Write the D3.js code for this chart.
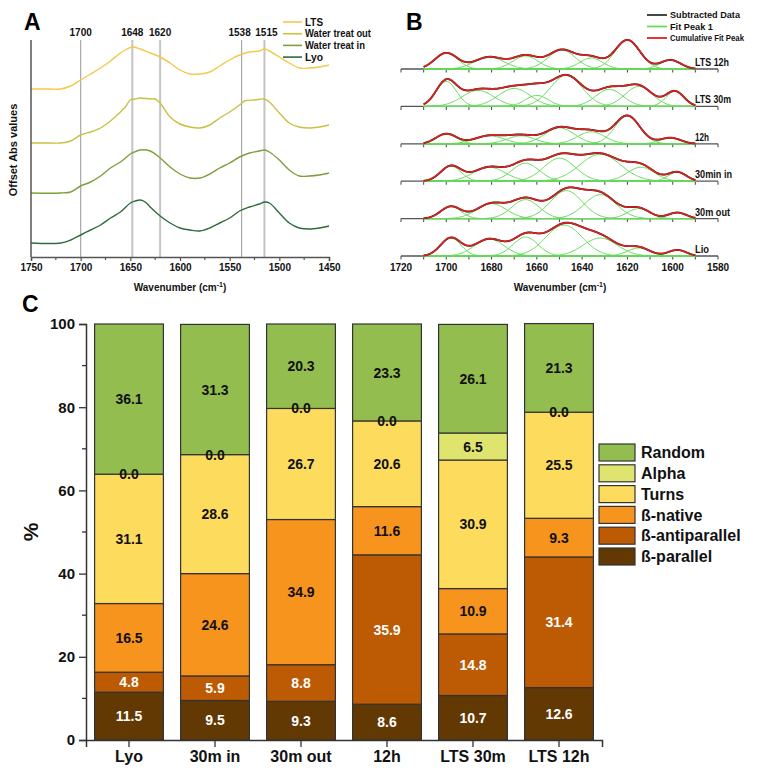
<!DOCTYPE html>
<html><head><meta charset="utf-8">
<script src="https://cdn.jsdelivr.net/npm/d3@7"></script>
<style>
body{margin:0;background:#fff}
svg{display:block;font-family:Arial,"Liberation Sans",sans-serif;font-weight:bold}
</style></head><body>
<svg id="fig" width="759" height="768"></svg>
<script>
// ---------- Panel A: offset FTIR spectra (wavenumber, offset absorbance) ----------
const spectrumLTS = [[1750,1.68],[1740,1.68],[1730,1.68],[1720,1.68],[1710,1.71],[1700,1.77],[1690,1.83],[1680,1.89],[1670,1.96],[1660,2.04],[1655,2.07],[1648,2.10],[1640,2.08],[1630,2.04],[1620,2.00],[1610,1.94],[1600,1.87],[1590,1.83],[1580,1.83],[1570,1.85],[1560,1.91],[1550,1.97],[1540,2.02],[1530,2.05],[1520,2.06],[1515,2.08],[1510,2.06],[1500,2.00],[1490,1.94],[1480,1.89],[1470,1.89],[1460,1.90],[1450,1.92]];
const spectrumWaterOut = [[1750,1.14],[1730,1.14],[1720,1.14],[1710,1.16],[1700,1.22],[1690,1.25],[1680,1.29],[1670,1.36],[1660,1.45],[1655,1.50],[1650,1.57],[1645,1.58],[1640,1.59],[1630,1.58],[1625,1.58],[1620,1.54],[1610,1.40],[1600,1.33],[1590,1.30],[1580,1.29],[1570,1.32],[1560,1.39],[1550,1.45],[1540,1.52],[1535,1.56],[1525,1.57],[1515,1.58],[1510,1.55],[1500,1.44],[1490,1.34],[1480,1.30],[1470,1.29],[1460,1.30],[1450,1.32]];
const spectrumWaterIn = [[1750,0.64],[1720,0.64],[1710,0.65],[1700,0.71],[1690,0.75],[1680,0.81],[1670,0.89],[1660,0.95],[1650,1.03],[1648,1.04],[1640,1.07],[1630,1.06],[1620,0.99],[1610,0.90],[1600,0.83],[1590,0.79],[1580,0.79],[1570,0.83],[1560,0.89],[1550,0.94],[1540,1.00],[1530,1.04],[1520,1.06],[1515,1.07],[1510,1.05],[1500,0.97],[1490,0.87],[1480,0.81],[1470,0.81],[1460,0.82],[1450,0.84]];
const spectrumLyo = [[1750,0.14],[1720,0.14],[1710,0.17],[1700,0.22],[1690,0.27],[1680,0.32],[1670,0.39],[1660,0.45],[1650,0.54],[1645,0.56],[1640,0.57],[1635,0.55],[1630,0.50],[1620,0.41],[1610,0.34],[1600,0.29],[1590,0.27],[1580,0.26],[1570,0.29],[1560,0.34],[1550,0.39],[1540,0.46],[1530,0.50],[1520,0.53],[1515,0.55],[1510,0.54],[1500,0.44],[1490,0.34],[1480,0.29],[1470,0.28],[1460,0.29],[1450,0.31]];
const spectraNames = ["LTS","Water treat out","Water treat in","Lyo"];
const spectraColors = ["#f2c94a","#c9c142","#7d9f3c","#2f6b3b"];
const markerBands = [1700,1648,1620,1538,1515];
const axisATicks = [1750,1700,1650,1600,1550,1500,1450];

// ---------- Panel B: Gaussian band fits of amide I (centre, height, sigma) ----------
const fitRows = ["Lio","30m out","30min in","12h","LTS 30m","LTS 12h"];
const bandsLio = [[1698,18,4.5],[1681,17,6.5],[1665,19,5.5],[1648,31,8],[1632,18,7.5],[1615,8,5],[1598,6,4]];
const bands30mOut = [[1698,12,4.5],[1680,15,6.5],[1665,19,6],[1647,28,7],[1632,24,7],[1615,10,5],[1598,6,4]];
const bands30minIn = [[1698,15,4.5],[1681,14,7],[1665,18,6],[1650,23,7],[1632,27,9],[1614,14,6],[1598,9,4]];
const bands12h = [[1700,10,4.5],[1681,8,6.5],[1667,8,6],[1650,16,6.5],[1636,12,6],[1620,28,5.5],[1601,6,4.5]];
const bandsLTS30m = [[1700,25,4.5],[1686,16,7],[1670,18,7],[1660,11,5],[1647,31,7],[1628,17,6],[1615,20,6],[1599,15,4]];
const bandsLTS12h = [[1700,16,5],[1681,12,6.5],[1665,13,5.5],[1649,19,6],[1636,11,5],[1620,29,5.5],[1601,9,4.5]];
const fitBands = [bandsLio,bands30mOut,bands30minIn,bands12h,bandsLTS30m,bandsLTS12h];
const axisBTicks = [1720,1700,1680,1660,1640,1620,1600,1580];
const fitLegend = ["Subtracted Data","Fit Peak 1","Cumulative Fit Peak"];

// ---------- Panel C: secondary structure composition (%) ----------
const conditions = ["Lyo","30m in","30m out","12h","LTS 30m","LTS 12h"];
const structures = ["ß-parallel","ß-antiparallel","ß-native","Turns","Alpha","Random"];
const betaParallel = [11.5,9.5,9.3,8.6,10.7,12.6];
const betaAntiparallel = [4.8,5.9,8.8,35.9,14.8,31.4];
const betaNative = [16.5,24.6,34.9,11.6,10.9,9.3];
const turns = [31.1,28.6,26.7,20.6,30.9,25.5];
const alpha = [0.0,0.0,0.0,0.0,6.5,0.0];
const random = [36.1,31.3,20.3,23.3,26.1,21.3];
const structureColors = ["#623803","#bd5a04","#f7941e","#fddc5d","#dfe46e","#93bd4e"];
const labelColors = ["#fff","#fff","#111","#111","#111","#111"];
const axisCTicks = [0,20,40,60,80,100];

const svg = d3.select("#fig");
svg.append("rect").attr("width",759).attr("height",768).attr("fill","#fff");
const axisCol = "#555";

// small labels are set in a condensed face: squeeze each run to its set width
function squeeze(sel,widths){
  sel.attr("textLength",(d,i)=>widths[i]).attr("lengthAdjust","spacingAndGlyphs");
}
function panelLetter(t,x,y){
  svg.append("text").attr("x",x).attr("y",y).attr("font-size",23).attr("fill","#000").text(t);
}
function wavenumberTitle(cx,cy){
  const t = svg.append("text").attr("x",cx).attr("y",cy).attr("text-anchor","middle")
    .attr("font-size",10).attr("fill","#111");
  t.append("tspan").text("Wavenumber (cm");
  t.append("tspan").attr("font-size",7).attr("dy",-4).text("-1");
  t.append("tspan").attr("dy",4).text(")");
}

// ===== Panel A =====
{
  const x = d3.scaleLinear().domain([1750,1450]).range([31,329]);
  const y = d3.scaleLinear().domain([0,2.17]).range([257,40]);
  const g = svg.append("g");
  // reference band lines
  const strong = [1648,1620,1515];
  g.selectAll("line.band").data(markerBands).join("line")
    .attr("x1",d=>x(d)).attr("x2",d=>x(d)).attr("y1",40).attr("y2",257)
    .attr("stroke",d=>strong.includes(d)?"#c4c4c4":"#a8a8a8")
    .attr("stroke-width",d=>strong.includes(d)?2:1.2);
  g.selectAll("text.band").data(markerBands).join("text")
    .attr("x",d=>x(d)+(d===1538?-2:d===1515?2:0)).attr("y",36).attr("text-anchor","middle")
    .attr("font-size",10).attr("fill","#111").text(d=>d);
  // spectra
  const line = d3.line().x(d=>x(d[0])).y(d=>y(d[1])).curve(d3.curveCatmullRom.alpha(0.5));
  const spectra = [spectrumLTS,spectrumWaterOut,spectrumWaterIn,spectrumLyo];
  g.selectAll("path.spec").data(spectra).join("path")
    .attr("d",line).attr("fill","none").attr("stroke",(d,i)=>spectraColors[i]).attr("stroke-width",1.4);
  // axes
  const ax = g.append("g").attr("transform","translate(0,257)")
    .call(d3.axisBottom(x).tickValues(axisATicks).tickSize(4).tickPadding(3).tickFormat(d3.format("d")));
  ax.select(".domain").attr("stroke",axisCol).attr("stroke-width",1.5);
  ax.selectAll(".tick line").attr("stroke",axisCol).attr("stroke-width",1.2);
  ax.selectAll("text").attr("font-size",10).attr("font-weight","bold").attr("fill","#111").attr("font-family","Arial,'Liberation Sans',sans-serif");
  g.append("g").selectAll("line").data(d3.range(1725,1450,-50)).join("line")
    .attr("x1",d=>x(d)).attr("x2",d=>x(d)).attr("y1",257).attr("y2",260)
    .attr("stroke",axisCol).attr("stroke-width",1.2);
  g.append("line").attr("x1",31).attr("x2",31).attr("y1",40).attr("y2",257)
    .attr("stroke",axisCol).attr("stroke-width",1.5);
  g.append("text").attr("transform","translate(17,150) rotate(-90)").attr("text-anchor","middle")
    .attr("font-size",11).attr("fill","#111").text("Offset Abs values");
  // legend
  const lg = g.selectAll("g.leg").data(spectraNames).join("g")
    .attr("transform",(d,i)=>`translate(283,${22+i*11.7})`);
  lg.append("line").attr("x1",0).attr("x2",19).attr("stroke",(d,i)=>spectraColors[i]).attr("stroke-width",1.6);
  lg.append("text").attr("x",22).attr("dy","0.35em").attr("font-size",10.5).attr("fill","#111").text(d=>d)
    .call(squeeze,[18,66,60,18]);
  panelLetter("A",24,30);
  wavenumberTitle(180,291);
}

// ===== Panel B =====
{
  const x = d3.scaleLinear().domain([1720,1580]).range([401,718]);
  const rowStep = 37.4;
  const y = d3.scaleLinear().domain([0,rowStep*5]).range([256,69]);
  const g = svg.append("g");
  const grid = d3.range(1710,1589.9,-0.5);
  const gauss = (b,w)=>b[1]*Math.exp(-((w-b[0])**2)/(2*b[2]*b[2]));
  const rowLabelWidths = [14,35,37,14,36,34];
  fitRows.forEach((name,r)=>{
    const base = r*rowStep;
    const by = y(base);
    // row baseline axis
    g.append("line").attr("x1",x(1720)).attr("x2",x(1580)).attr("y1",by).attr("y2",by)
      .attr("stroke",axisCol).attr("stroke-width",1.3);
    g.append("g").selectAll("line").data(d3.range(1720,1579,-10)).join("line")
      .attr("x1",d=>x(d)).attr("x2",d=>x(d)).attr("y1",by).attr("y2",by+3.5)
      .attr("stroke",axisCol).attr("stroke-width",1.1);
    const bands = fitBands[r];
    const line = d3.line().x(d=>x(d[0])).y(d=>y(base+d[1]));
    // individual fitted bands
    bands.forEach(b=>{
      g.append("path").datum(grid.map(w=>[w,gauss(b,w)])).attr("d",line)
        .attr("fill","none").attr("stroke","#63dc58").attr("stroke-width",1);
    });
    const total = grid.map(w=>[w,d3.sum(bands,b=>gauss(b,w))]);
    g.append("path").datum(total).attr("d",line).attr("fill","none")
      .attr("stroke","#222").attr("stroke-width",1.9);
    g.append("path").datum(total).attr("d",line).attr("fill","none")
      .attr("stroke","#e0201e").attr("stroke-width",1.6);
    g.append("text").attr("x",695).attr("y",by-3).attr("font-size",10.5).attr("fill","#111").text(name)
      .attr("textLength",rowLabelWidths[r]).attr("lengthAdjust","spacingAndGlyphs");
  });
  g.append("g").selectAll("text").data(axisBTicks).join("text")
    .attr("x",d=>x(d)).attr("y",271).attr("text-anchor","middle").attr("font-size",10)
    .attr("fill","#111").text(d=>d);
  // legend
  const legCols = ["#333","#63dc58","#e0201e"];
  const lg = g.selectAll("g.leg").data(fitLegend).join("g")
    .attr("transform",(d,i)=>`translate(647,${15+i*11.5})`);
  lg.append("line").attr("x1",0).attr("x2",20).attr("stroke",(d,i)=>legCols[i]).attr("stroke-width",1.8);
  lg.append("text").attr("x",23).attr("dy","0.35em").attr("font-size",9).attr("fill","#111").text(d=>d)
    .call(squeeze,[70,43,74]);
  panelLetter("B",406,30);
  wavenumberTitle(560,291);
}

// ===== Panel C =====
{
  const x = d3.scaleBand().domain(conditions).range([86,602]).paddingInner(0.2).paddingOuter(0.1);
  const y = d3.scaleLinear().domain([0,100]).range([740,324]);
  const g = svg.append("g");
  const table = conditions.map((c,i)=>({
    condition:c,"ß-parallel":betaParallel[i],"ß-antiparallel":betaAntiparallel[i],
    "ß-native":betaNative[i],"Turns":turns[i],"Alpha":alpha[i],"Random":random[i]}));
  const series = d3.stack().keys(structures)(table);
  const layers = g.selectAll("g.layer").data(series).join("g").attr("class","layer");
  layers.selectAll("rect").data(s=>s.map(d=>Object.assign({},d,{key:s.key}))).join("rect")
    .attr("x",d=>x(d.data.condition)).attr("width",x.bandwidth())
    .attr("y",d=>y(d[1])).attr("height",d=>y(d[0])-y(d[1]))
    .attr("fill",d=>structureColors[structures.indexOf(d.key)])
    .attr("stroke","#333").attr("stroke-width",1.2);
  series.forEach((s,k)=>{
    g.append("g").selectAll("text").data(s).join("text")
      .attr("x",d=>x(d.data.condition)+x.bandwidth()/2)
      .attr("y",d=>y((d[0]+d[1])/2)).attr("dy","0.36em").attr("text-anchor","middle")
      .attr("font-size",14).attr("fill",labelColors[k])
      .text(d=>d.data[s.key].toFixed(1));
  });
  // axes
  const ay = g.append("g").attr("transform","translate(86,0)")
    .call(d3.axisLeft(y).tickValues(axisCTicks).tickSize(7).tickPadding(4));
  ay.select(".domain").attr("stroke","#333").attr("stroke-width",1.5);
  ay.selectAll(".tick line").attr("stroke","#333").attr("stroke-width",1.3);
  ay.selectAll("text").attr("font-size",15).attr("font-weight","bold").attr("fill","#111").attr("font-family","Arial,'Liberation Sans',sans-serif");
  g.append("g").selectAll("line").data([10,30,50,70,90]).join("line")
    .attr("x1",82).attr("x2",86).attr("y1",d=>y(d)).attr("y2",d=>y(d))
    .attr("stroke","#333").attr("stroke-width",1.3);
  const ax = g.append("g").attr("transform","translate(0,740)")
    .call(d3.axisBottom(x).tickSize(7).tickPadding(4));
  ax.select(".domain").attr("stroke","#333").attr("stroke-width",1.5);
  ax.selectAll(".tick line").attr("stroke","#333").attr("stroke-width",1.3);
  ax.selectAll("text").attr("font-size",16).attr("font-weight","bold").attr("fill","#111").attr("font-family","Arial,'Liberation Sans',sans-serif");
  g.append("text").attr("transform","translate(38,532) rotate(-90)").attr("text-anchor","middle")
    .attr("font-size",21).attr("fill","#111").text("%");
  // legend (top to bottom: Random ... ß-parallel)
  const legItems = structures.slice().reverse();
  const lg = g.selectAll("g.leg").data(legItems).join("g")
    .attr("transform",(d,i)=>`translate(599,${444+i*20.8})`);
  lg.append("rect").attr("width",36).attr("height",17)
    .attr("fill",d=>structureColors[structures.indexOf(d)]).attr("stroke","#333").attr("stroke-width",1.2);
  lg.append("text").attr("x",42).attr("y",8.5).attr("dy","0.36em").attr("font-size",16).attr("fill","#111").text(d=>d);
  panelLetter("C",22,312);
}
</script>
</body></html>
